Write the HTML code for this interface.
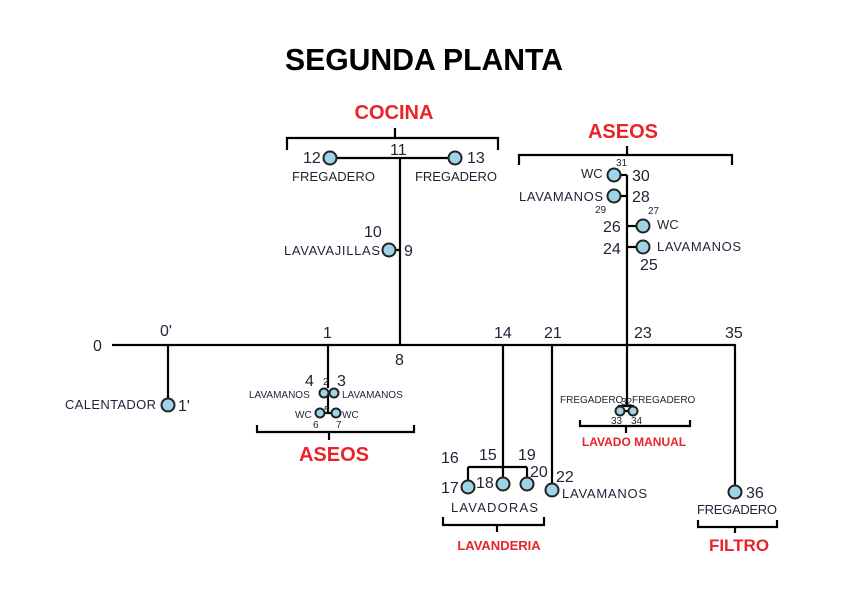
<!DOCTYPE html>
<html><head><meta charset="utf-8"><style>
html,body{margin:0;padding:0;background:#fff;width:848px;height:599px;overflow:hidden}
svg text{font-family:"Liberation Sans",sans-serif;fill:#1c2435}
.r{fill:#e8242a !important;font-weight:bold}
.c{fill:#9fd3e6;stroke:#222;stroke-width:2}
</style></head><body>
<svg width="848" height="599" viewBox="0 0 848 599" xmlns="http://www.w3.org/2000/svg">
<g stroke="#000" stroke-width="2.2" fill="none">
<line x1="112" y1="345" x2="736" y2="345"/>
<line x1="735" y1="345" x2="735" y2="492"/>
<line x1="168" y1="345" x2="168" y2="405"/>
<line x1="328" y1="345" x2="328" y2="388"/>
<line x1="328" y1="393" x2="328" y2="413"/>
<line x1="320" y1="413" x2="336" y2="413"/>
<line x1="322" y1="393" x2="338" y2="393"/>
<line x1="400" y1="158" x2="400" y2="345"/>
<line x1="330" y1="158" x2="455" y2="158"/>
<line x1="389" y1="250" x2="400" y2="250"/>
<line x1="503" y1="345" x2="503" y2="484"/>
<line x1="468" y1="467" x2="527" y2="467"/>
<line x1="468" y1="467" x2="468" y2="487"/>
<line x1="527" y1="467" x2="527" y2="484"/>
<line x1="552" y1="345" x2="552" y2="490"/>
<line x1="627" y1="175" x2="627" y2="406"/>
<line x1="614" y1="175" x2="627" y2="175"/>
<line x1="614" y1="196" x2="627" y2="196"/>
<line x1="627" y1="226" x2="643" y2="226"/>
<line x1="627" y1="247" x2="643" y2="247"/>
<line x1="618" y1="406" x2="634" y2="406"/>
<line x1="618" y1="411" x2="634" y2="411"/>
<path d="M287 150 V138 H498 V150 M395 138 V128"/>
<path d="M519 165 V155 H732 V165 M627 155 V146"/>
<path d="M257 425 V432 H414 V425 M329 432 V440"/>
<path d="M580 420 V426 H690 V420 M626 426 V433"/>
<path d="M443 517 V525 H544 V517 M497 525 V532"/>
<path d="M698 520 V527 H777 V520 M735 527 V533"/>
</g>
<g class="c">
<circle cx="168" cy="405" r="6.5"/>
<circle cx="330" cy="158" r="6.5"/><circle cx="455" cy="158" r="6.5"/>
<circle cx="389" cy="250" r="6.5"/>
<circle cx="468" cy="487" r="6.5"/><circle cx="503" cy="484" r="6.5"/><circle cx="527" cy="484" r="6.5"/>
<circle cx="552" cy="490" r="6.5"/><circle cx="735" cy="492" r="6.5"/>
<circle cx="614" cy="175" r="6.5"/><circle cx="614" cy="196" r="6.5"/>
<circle cx="643" cy="226" r="6.5"/><circle cx="643" cy="247" r="6.5"/>
<circle cx="620" cy="411" r="4.5"/><circle cx="633" cy="411" r="4.5"/>
<circle cx="324" cy="393" r="4.5"/><circle cx="334" cy="393" r="4.5"/>
<circle cx="320" cy="413" r="4.5"/><circle cx="336" cy="413" r="4.5"/>
</g>
<text x="424" y="70" text-anchor="middle" font-size="31" font-weight="bold" style="fill:#000" textLength="278" lengthAdjust="spacingAndGlyphs">SEGUNDA PLANTA</text>
<text class="r" x="394" y="119" text-anchor="middle" font-size="20">COCINA</text>
<text class="r" x="623" y="138" text-anchor="middle" font-size="20">ASEOS</text>
<text class="r" x="334" y="461" text-anchor="middle" font-size="20">ASEOS</text>
<text class="r" x="634" y="446" text-anchor="middle" font-size="12">LAVADO MANUAL</text>
<text class="r" x="499" y="550" text-anchor="middle" font-size="13">LAVANDERIA</text>
<text class="r" x="739" y="551" text-anchor="middle" font-size="17">FILTRO</text>
<g font-size="16">
<text x="93" y="351">0</text><text x="160" y="336">0'</text><text x="178" y="411">1'</text>
<text x="323" y="338">1</text><text x="395" y="365">8</text>
<text x="303" y="163">12</text><text x="390" y="155">11</text><text x="467" y="163">13</text>
<text x="364" y="237">10</text><text x="404" y="256">9</text>
<text x="494" y="338">14</text><text x="544" y="338">21</text><text x="634" y="338">23</text><text x="725" y="338">35</text>
<text x="632" y="181">30</text><text x="632" y="202">28</text>
<text x="603" y="232">26</text><text x="603" y="254">24</text><text x="640" y="270">25</text>
<text x="305" y="386">4</text><text x="337" y="386">3</text>
<text x="441" y="463">16</text><text x="479" y="460">15</text><text x="518" y="460">19</text>
<text x="441" y="493">17</text><text x="476" y="488">18</text><text x="530" y="477">20</text><text x="556" y="482">22</text>
<text x="746" y="498">36</text>
</g>
<g font-size="13">
<text x="65" y="409" textLength="91">CALENTADOR</text>
<text x="292" y="181" textLength="83">FREGADERO</text><text x="415" y="181" textLength="82">FREGADERO</text>
<text x="284" y="255" textLength="96">LAVAVAJILLAS</text>
<text x="581" y="178">WC</text><text x="519" y="201" textLength="84">LAVAMANOS</text>
<text x="657" y="229">WC</text><text x="657" y="251" textLength="84">LAVAMANOS</text>
<text x="451" y="512" textLength="87">LAVADORAS</text><text x="562" y="498" textLength="85">LAVAMANOS</text>
<text x="697" y="514" textLength="80">FREGADERO</text>
</g>
<g font-size="10">
<text x="616" y="166">31</text><text x="595" y="213">29</text><text x="648" y="214">27</text>
<text x="249" y="398">LAVAMANOS</text><text x="342" y="398">LAVAMANOS</text>
<text x="323" y="385">2</text>
<text x="295" y="418">WC</text><text x="342" y="418">WC</text>
<text x="324" y="413">5</text><text x="313" y="428">6</text><text x="336" y="428">7</text>
<text x="560" y="403">FREGADERO</text><text x="632" y="403">FREGADERO</text>
<text x="621" y="405">32</text><text x="611" y="424">33</text><text x="631" y="424">34</text>
</g>
</svg>
</body></html>
